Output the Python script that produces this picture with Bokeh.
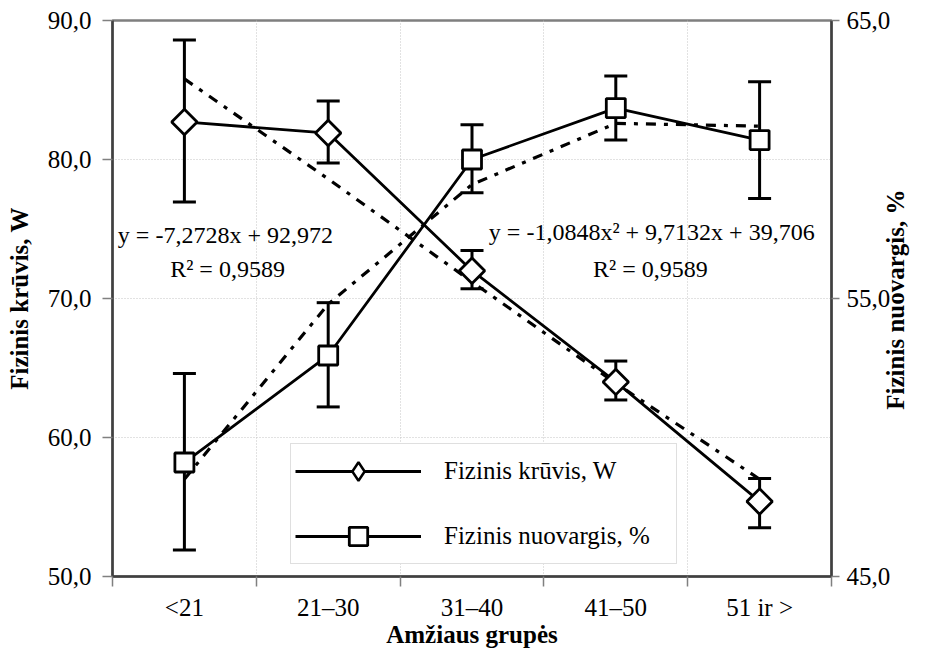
import math
from bokeh.plotting import figure
from bokeh.models import (Range1d, LinearAxis, FixedTicker, ColumnDataSource, Whisker,
                          TeeHead, Legend, LegendItem, Label)
from bokeh.embed import file_html
from bokeh.resources import INLINE

# ---------------- data ----------------
categories = ["<21", "21–30", "31–40", "41–50", "51 ir >"]

kruvis = [82.7, 81.9, 72.0, 64.0, 55.4]
kruvis_upper = [88.6, 84.2, 73.45, 65.5, 57.05]
kruvis_lower = [76.95, 79.75, 70.7, 62.7, 53.5]
kruvis_trend = [85.8, 78.6, 71.2, 63.9, 57.0]

nuovargis = [49.1, 52.95, 60.0, 61.85, 60.7]
nuovargis_upper = [52.3, 54.85, 61.25, 63.0, 62.8]
nuovargis_lower = [45.95, 51.1, 58.8, 60.7, 58.6]
nuovargis_trend = [48.5, 54.8, 59.1, 61.3, 61.2]

left_ticks = [50, 60, 70, 80, 90]
right_ticks = [45, 55, 65]

eq_kruvis = "y = -7,2728x + 92,972"
eq_nuovargis = "y = -1,0848x² + 9,7132x + 39,706"
r2_kruvis = "R² = 0,9589"
r2_nuovargis = "R² = 0,9589"

label_kruvis = "Fizinis krūvis, W"
label_nuovargis = "Fizinis nuovargis, %"
x_title = "Amžiaus grupės"

# ---------------- figure ----------------
FONT = "Liberation Serif"
x = list(range(1, len(categories) + 1))
bounds = [i + 0.5 for i in range(0, len(categories) + 1)]


def fmt(v):
    return f"{v:.1f}".replace(".", ",")


p = figure(width=925, height=659, x_range=Range1d(0.5, len(categories) + 0.5),
           y_range=Range1d(50, 90), output_backend="svg", toolbar_location=None,
           min_border_left=112, min_border_right=93, min_border_top=20,
           min_border_bottom=83)
p.extra_y_ranges = {"right": Range1d(45, 65)}
p.background_fill_color = "white"
p.border_fill_color = "white"
p.outline_line_color = "#7f7f7f"
p.outline_line_width = 2.5

# x axis
xa = p.xaxis[0]
xa.ticker = FixedTicker(ticks=x, minor_ticks=bounds)
xa.major_label_overrides = {xi: c for xi, c in zip(x, categories)}
xa.major_tick_line_color = None
xa.major_tick_out = 10
xa.minor_tick_out = 10
xa.minor_tick_in = 0
xa.minor_tick_line_color = "#808080"
xa.minor_tick_line_width = 1.5
xa.major_label_standoff = 7
xa.axis_label = x_title
xa.axis_label_standoff = -3

# left axis
ya = p.yaxis[0]
ya.ticker = FixedTicker(ticks=left_ticks)
ya.major_label_overrides = {t: fmt(t) for t in left_ticks}
ya.major_tick_out = 10
ya.major_tick_in = 0
ya.minor_tick_line_color = None
ya.major_label_standoff = 11
ya.axis_label = label_kruvis
ya.axis_label_standoff = 12

# right axis (ticks and labels)
ra = LinearAxis(y_range_name="right", ticker=FixedTicker(ticks=right_ticks))
ra.major_label_overrides = {t: fmt(t) for t in right_ticks}
ra.major_tick_out = 8
ra.major_tick_in = 0
ra.minor_tick_line_color = None
ra.major_label_standoff = 7
p.add_layout(ra, "right")

# right axis title, reading bottom-to-top: a title-only axis whose single label
# starts at 51 on the right scale so that the text sits centred on the axis
title_anchor = 51
rt = LinearAxis(y_range_name="right", ticker=FixedTicker(ticks=[title_anchor]))
rt.major_label_overrides = {title_anchor: label_nuovargis}
rt.major_label_orientation = math.pi / 2
rt.axis_line_color = None
rt.major_tick_line_color = None
rt.minor_tick_line_color = None
rt.major_tick_out = 0
rt.major_tick_in = 0
rt.minor_tick_out = 0
rt.minor_tick_in = 0
rt.major_label_standoff = 2
p.add_layout(rt, "right")

for ax in (xa, ya, ra, rt):
    ax.major_label_text_font = FONT
    ax.major_label_text_font_size = "25px"
    ax.major_label_text_color = "black"
    ax.axis_label_text_font = FONT
    ax.axis_label_text_font_size = "25px"
    ax.axis_label_text_font_style = "bold"
    ax.axis_label_text_color = "black"
rt.major_label_text_font_style = "bold"
for ax in (xa, ya, ra):
    ax.axis_line_color = "#404040"
    ax.axis_line_width = 2.5
for ax in (ya, ra):
    ax.major_tick_line_color = "#808080"
    ax.major_tick_line_width = 1.5

# grid
p.xgrid.ticker = FixedTicker(ticks=bounds[1:-1])
p.ygrid.ticker = FixedTicker(ticks=left_ticks[1:-1])
for g in (p.xgrid, p.ygrid):
    g.grid_line_color = "#c4c4c4"
    g.grid_line_dash = "1 2"
    g.grid_line_width = 1

# error bars (under the markers)
src_k = ColumnDataSource(dict(x=x, u=kruvis_upper, l=kruvis_lower))
src_n = ColumnDataSource(dict(x=x, u=nuovargis_upper, l=nuovargis_lower))
for src, rng in ((src_k, "default"), (src_n, "right")):
    w = Whisker(base="x", upper="u", lower="l", source=src, dimension="height",
                line_color="black", line_width=3, level="underlay",
                upper_head=TeeHead(size=23, line_width=3, line_color="black"),
                lower_head=TeeHead(size=23, line_width=3, line_color="black"))
    w.y_range_name = rng
    p.add_layout(w)

# trend lines
p.line(x, kruvis_trend, line_color="black", line_width=3.2, line_dash="10 8 4 8")
p.line(x, nuovargis_trend, line_color="black", line_width=3.2, line_dash="10 8 4 8",
       y_range_name="right")

# data lines and markers
kl = p.line(x, kruvis, line_color="black", line_width=2.8)
nl = p.line(x, nuovargis, line_color="black", line_width=2.8, y_range_name="right")
ks = p.scatter(x, kruvis, marker="square", angle=math.pi / 4, size=18,
               fill_color="white", line_color="black", line_width=2.8)
ns = p.scatter(x, nuovargis, marker="square", size=19, fill_color="white",
               line_color="black", line_width=2.8, y_range_name="right")
# diamond symbol for the legend entry: zero size in the plot itself
kd = p.scatter(x, kruvis, marker="diamond", size=0, fill_color="white",
               line_color="black", line_width=2.5)

# equations
for txt, xx, yy in ((eq_kruvis, 1.285, 74.55), (r2_kruvis, 1.30, 72.15),
                    (eq_nuovargis, 4.25, 74.75), (r2_nuovargis, 4.24, 72.15)):
    p.add_layout(Label(x=xx, y=yy, text=txt, text_align="center", text_baseline="middle",
                       text_font=FONT, text_font_size="24px", text_color="black"))

# legend
legend = Legend(items=[LegendItem(label=label_kruvis, renderers=[kl, kd]),
                       LegendItem(label=label_nuovargis, renderers=[nl, ns])],
                location=(178, 12), orientation="vertical",
                glyph_width=126, glyph_height=46, spacing=19, padding=4, margin=0,
                label_standoff=23, label_width=228,
                label_text_font=FONT, label_text_font_size="25px",
                label_text_color="black",
                border_line_color="#c0c0c0", border_line_width=1.5,
                background_fill_color="white", background_fill_alpha=1.0)
p.add_layout(legend)

open("out.html", "w").write(file_html(p, INLINE))
